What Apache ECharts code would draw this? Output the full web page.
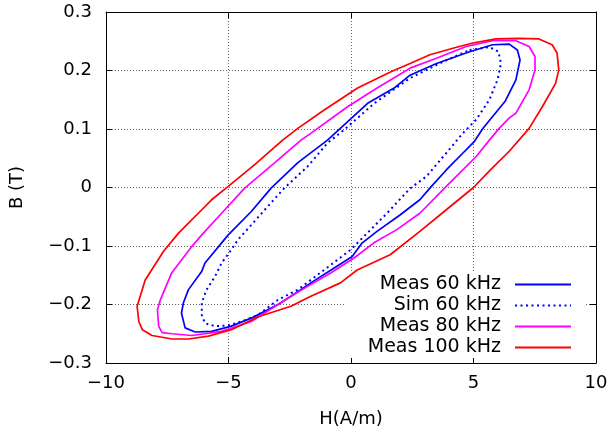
<!DOCTYPE html>
<html>
<head>
<meta charset="utf-8">
<script src="https://cdn.jsdelivr.net/npm/echarts@6/dist/echarts.min.js"></script>
<style>
html,body{margin:0;padding:0;background:#fff;}
#chart{width:615px;height:435px;}
</style>
</head>
<body>
<div id="chart"></div>
<script>
// Legend names
const seriesNames = ['Meas 60 kHz', 'Sim 60 kHz', 'Meas 80 kHz', 'Meas 100 kHz'];
const xTicks = [-10, -5, 0, 5, 10];
const yTicks = [-0.3, -0.2, -0.1, 0, 0.1, 0.2, 0.3];

// Meas 60 kHz loop
const meas60H = [4.84, 5.78, 6.46, 6.79, 6.90, 6.73, 6.30, 5.38, 5.04, 4.57, 3.89, 3.22, 2.81, 2.00, 1.06, 0.45, 0.05, -0.70, -1.64, -2.45, -2.98, -4.00, -4.88, -5.69, -6.36, -6.77, -6.92, -6.84, -6.64, -6.09, -5.96, -5.01, -4.07, -3.26, -2.18, -0.96, 0.68, 1.76, 2.41, 3.49, 4.84];
const meas60B = [0.232, 0.244, 0.245, 0.235, 0.218, 0.184, 0.148, 0.101, 0.079, 0.059, 0.030, -0.001, -0.021, -0.047, -0.075, -0.095, -0.118, -0.138, -0.163, -0.186, -0.200, -0.222, -0.237, -0.246, -0.247, -0.240, -0.215, -0.197, -0.175, -0.143, -0.129, -0.081, -0.041, -0.001, 0.042, 0.081, 0.144, 0.170, 0.192, 0.212, 0.232];

// Sim 60 kHz loop
const sim60H = [4.84, 5.65, 6.02, 6.12, 5.98, 5.65, 5.11, 4.57, 3.89, 3.08, 2.40, 1.47, 0.52, 0.00, -1.10, -2.18, -2.98, -3.80, -4.34, -5.01, -5.55, -5.96, -6.09, -6.09, -5.90, -5.55, -5.28, -4.88, -4.61, -4.07, -3.39, -2.72, -1.77, -0.96, -0.27, 0.95, 2.41, 3.76, 4.84];
const sim60B = [0.235, 0.240, 0.232, 0.212, 0.184, 0.150, 0.116, 0.093, 0.059, 0.019, -0.002, -0.044, -0.084, -0.106, -0.141, -0.175, -0.192, -0.218, -0.227, -0.236, -0.237, -0.232, -0.218, -0.197, -0.175, -0.152, -0.129, -0.106, -0.089, -0.064, -0.032, -0.001, 0.036, 0.076, 0.099, 0.144, 0.187, 0.215, 0.235];

// Meas 80 kHz loop
const meas80H = [4.70, 5.78, 6.73, 7.27, 7.51, 7.51, 7.27, 6.73, 6.46, 6.05, 5.65, 5.11, 3.89, 2.81, 1.87, 0.92, 0.11, -0.83, -1.77, -2.45, -4.07, -5.28, -6.50, -7.30, -7.71, -7.85, -7.90, -7.78, -7.32, -6.50, -6.09, -5.15, -4.34, -3.12, -2.04, -1.63, -0.14, 0.95, 2.41, 3.49, 4.70];
const meas80B = [0.241, 0.251, 0.251, 0.241, 0.224, 0.201, 0.167, 0.127, 0.119, 0.101, 0.081, 0.053, 0.002, -0.044, -0.072, -0.095, -0.121, -0.146, -0.169, -0.186, -0.229, -0.246, -0.253, -0.250, -0.248, -0.237, -0.209, -0.192, -0.146, -0.101, -0.081, -0.038, -0.001, 0.042, 0.081, 0.093, 0.138, 0.167, 0.204, 0.221, 0.241];

// Meas 100 kHz loop
const meas100H = [4.97, 5.92, 6.86, 7.67, 8.21, 8.41, 8.48, 8.35, 7.81, 7.27, 6.46, 5.69, 5.00, 3.89, 2.81, 1.60, 0.25, -0.43, -1.64, -2.45, -3.79, -4.88, -5.82, -6.63, -7.30, -8.12, -8.52, -8.66, -8.73, -8.40, -7.65, -7.04, -6.09, -5.69, -5.01, -3.93, -2.79, -2.17, -1.08, 0.27, 1.63, 2.41, 3.22, 4.16, 4.97];
const meas100B = [0.247, 0.254, 0.255, 0.254, 0.244, 0.230, 0.201, 0.178, 0.138, 0.101, 0.062, 0.030, 0.000, -0.038, -0.075, -0.115, -0.141, -0.163, -0.186, -0.203, -0.221, -0.243, -0.254, -0.259, -0.259, -0.253, -0.243, -0.229, -0.203, -0.158, -0.109, -0.078, -0.038, -0.021, 0.002, 0.039, 0.081, 0.101, 0.133, 0.170, 0.198, 0.212, 0.227, 0.238, 0.247];

const zip = (xs, ys) => xs.map((x, i) => [x, ys[i]]);
const FONT = 'DejaVu Sans';
const minus = s => String(s).replace('-', '\u2212');

const chart = echarts.init(document.getElementById('chart'), null, {renderer: 'canvas'});

const baseX = {
  type: 'value', min: xTicks[0], max: xTicks[xTicks.length - 1], interval: 5,
  axisLine: {show: true, onZero: false, lineStyle: {color: '#000', width: 1}},
  axisTick: {show: true, inside: true, length: 6, lineStyle: {color: '#000'}},
  splitLine: {show: false},
  axisLabel: {show: false}
};
const baseY = {
  type: 'value', min: yTicks[0], max: yTicks[yTicks.length - 1], interval: 0.1,
  axisLine: {show: true, onZero: false, lineStyle: {color: '#000', width: 1}},
  axisTick: {show: true, inside: true, length: 6, lineStyle: {color: '#000'}},
  splitLine: {show: false},
  axisLabel: {show: false}
};

function lineSeries(name, H, B, color, type, width) {
  return {
    name, type: 'line', xAxisIndex: 0, yAxisIndex: 0,
    data: zip(H, B), symbol: 'none', showSymbol: false, smooth: false,
    lineStyle: {color, width, type}, itemStyle: {color},
    z: 6, animation: false
  };
}

chart.setOption({
  animation: false,
  backgroundColor: '#fff',
  grid: {left: 104, right: 19, top: 12, bottom: 72, containLabel: false},
  xAxis: [
    Object.assign({}, baseX, {
      position: 'bottom',
      name: 'H(A/m)', nameLocation: 'middle', nameGap: 47,
      nameTextStyle: {fontFamily: FONT, fontSize: 18, color: '#000'},
      axisLabel: {show: true, margin: 11, fontFamily: FONT, fontSize: 18, color: '#000',
        formatter: v => minus(v)},
      splitLine: {show: true, lineStyle: {color: '#666', width: 1, type: [1, 2]}}
    }),
    Object.assign({}, baseX, {position: 'top'})
  ],
  yAxis: [
    Object.assign({}, baseY, {
      position: 'left',
      name: 'B (T)', nameLocation: 'middle', nameGap: 80,
      nameTextStyle: {fontFamily: FONT, fontSize: 18, color: '#000'},
      axisLabel: {show: true, margin: 14, fontFamily: FONT, fontSize: 18, color: '#000',
        formatter: v => Math.abs(v) < 1e-9 ? '0' : minus(v.toFixed(1))},
      splitLine: {show: true, lineStyle: {color: '#666', width: 1, type: [1, 2]}}
    }),
    Object.assign({}, baseY, {position: 'right'})
  ],
  legend: {
    data: seriesNames,
    orient: 'vertical', align: 'right',
    right: 30, top: 272,
    padding: [2, 13, 0, 22],
    backgroundColor: '#fff',
    itemWidth: 56, itemHeight: 14, itemGap: 0,
    itemStyle: {opacity: 0},
    textStyle: {fontFamily: FONT, fontSize: 19, color: '#000', lineHeight: 21, padding: [0, 9, 0, 0]},
    selectedMode: false,
    z: 4
  },
  series: [
    lineSeries(seriesNames[0], meas60H, meas60B, '#0000ff', 'solid', 1.7),
    lineSeries(seriesNames[1], sim60H, sim60B, '#0000ff', [2, 3.5], 2),
    lineSeries(seriesNames[2], meas80H, meas80B, '#ff00ff', 'solid', 1.7),
    lineSeries(seriesNames[3], meas100H, meas100B, '#ff0000', 'solid', 1.7)
  ]
});
</script>
</body>
</html>
